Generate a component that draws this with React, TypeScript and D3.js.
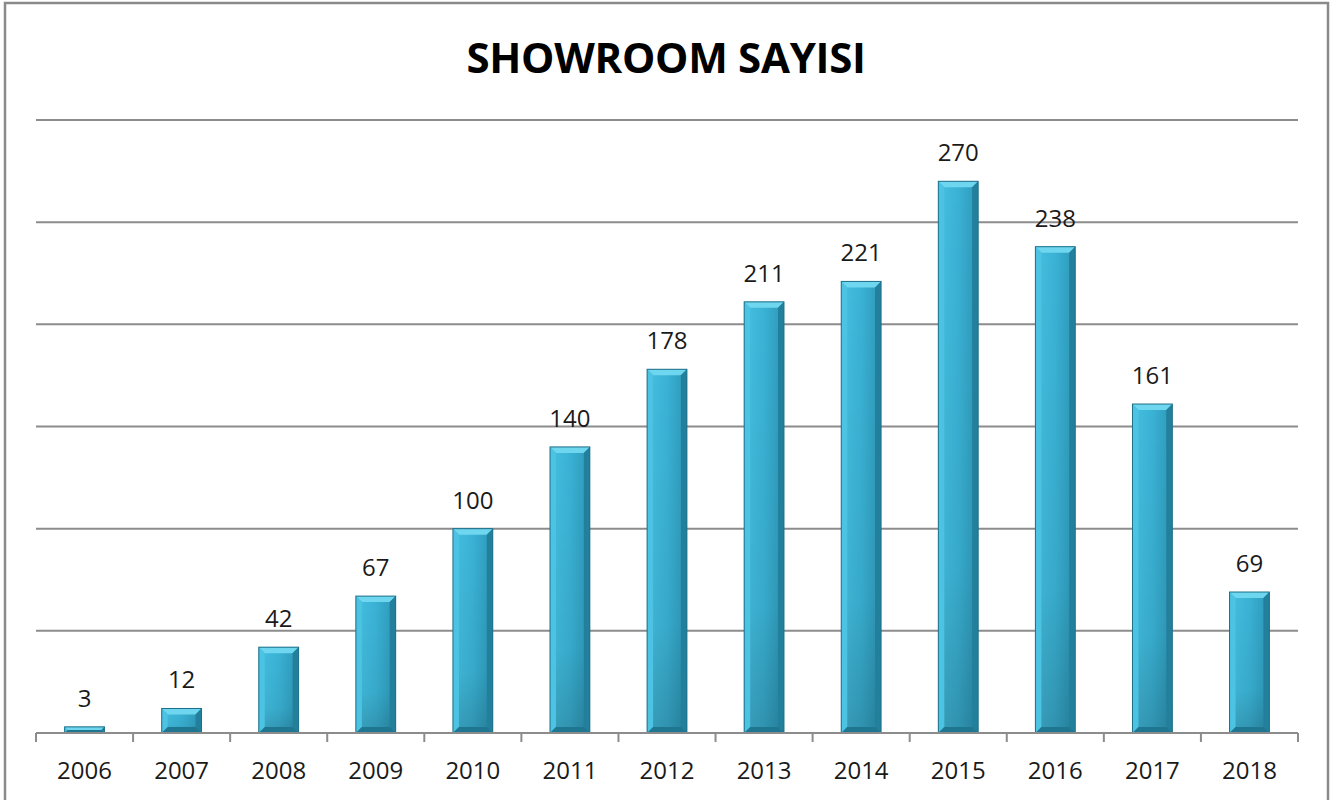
import React from 'react';
import * as d3 from 'd3';

const years = ['2006', '2007', '2008', '2009', '2010', '2011', '2012', '2013', '2014', '2015', '2016', '2017', '2018'];
const showrooms = [3, 12, 42, 67, 100, 140, 178, 211, 221, 270, 238, 161, 69];
const gridTicks = [0, 50, 100, 150, 200, 250, 300];

const W = 1339;
const H = 800;
const margin = { top: 120, right: 41, bottom: 67, left: 36 };
const FONT = "'Open Sans', 'Liberation Sans', sans-serif";

export default function App() {
  const innerW = W - margin.left - margin.right;
  const innerH = H - margin.top - margin.bottom;

  // x: band per year, y: count
  const x = d3.scaleBand().domain(years).range([0, innerW]).paddingInner(0.59).paddingOuter(0.295);
  const y = d3.scaleLinear().domain([0, 300]).range([innerH, 0]);
  const bw = x.bandwidth();
  const bev = 6;

  const step = innerW / years.length;

  return (
    <svg width={W} height={H} style={{ position: 'absolute', left: 0, top: 0 }}>
      <defs>
        <linearGradient id="barFace" x1="0" x2="1" y1="0" y2="0">
          <stop offset="0" stopColor="#45bfe0" />
          <stop offset="0.5" stopColor="#3ab2d5" />
          <stop offset="1" stopColor="#2d97b7" />
        </linearGradient>
        <linearGradient id="barShade" x1="0" x2="0" y1="0" y2="1">
          <stop offset="0" stopColor="#000" stopOpacity="0" />
          <stop offset="0.7" stopColor="#000" stopOpacity="0.05" />
          <stop offset="1" stopColor="#000" stopOpacity="0.18" />
        </linearGradient>
      </defs>
      <rect x={0} y={0} width={W} height={H} fill="#fff" />
      <rect x={5} y={3} width={1323} height={806} fill="none" stroke="#8a8a8a" strokeWidth={2.5} />

      <text x={666} y={73} textAnchor="middle" fontFamily={FONT} fontWeight="bold" fontSize={42} letterSpacing={-0.3} fill="#000">
        SHOWROOM SAYISI
      </text>

      <g transform={`translate(${margin.left},${margin.top})`}>
        {gridTicks.map((t) => (
          <line key={t} x1={0} x2={innerW} y1={y(t)} y2={y(t)} stroke="#8c8c8c" strokeWidth={2} />
        ))}
        {d3.range(years.length + 1).map((i) => (
          <line key={i} x1={i * step} x2={i * step} y1={innerH} y2={innerH + 9} stroke="#8c8c8c" strokeWidth={2} />
        ))}

        {years.map((yr, i) => {
          const v = showrooms[i];
          const x0 = x(yr) as number;
          const y0 = y(v);
          const h = innerH - y0;
          const b = Math.min(bev, h / 2);
          const x1 = x0 + bw;
          const yb = innerH;
          return (
            <g key={yr}>
              <rect x={x0} y={y0} width={bw} height={h} fill="url(#barFace)" />
              <rect x={x0} y={y0} width={bw} height={h} fill="url(#barShade)" />
              {/* top bevel */}
              <polygon points={`${x0},${y0} ${x1},${y0} ${x1 - b},${y0 + b} ${x0 + b},${y0 + b}`} fill="#6fd6ef" />
              {/* left bevel */}
              <polygon points={`${x0},${y0} ${x0 + b},${y0 + b} ${x0 + b},${yb - b} ${x0},${yb}`} fill="#4cc3e2" />
              {/* right bevel */}
              <polygon points={`${x1},${y0} ${x1 - b},${y0 + b} ${x1 - b},${yb - b} ${x1},${yb}`} fill="#23809c" />
              {/* bottom bevel */}
              <polygon points={`${x0},${yb} ${x1},${yb} ${x1 - b},${yb - b} ${x0 + b},${yb - b}`} fill="#1f7690" />
              <rect x={x0} y={y0} width={bw} height={h} fill="none" stroke="#1d6f88" strokeWidth={1} />
              <text x={x0 + bw / 2} y={y0 - 20} textAnchor="middle" fontFamily={FONT} fontSize={24} fill="#1a1a1a">
                {v}
              </text>
              <text x={x0 + bw / 2} y={innerH + 46} textAnchor="middle" fontFamily={FONT} fontSize={24} fill="#1a1a1a">
                {yr}
              </text>
            </g>
          );
        })}
        <line x1={0} x2={innerW} y1={innerH} y2={innerH} stroke="#8c8c8c" strokeWidth={2} />
      </g>
    </svg>
  );
}
